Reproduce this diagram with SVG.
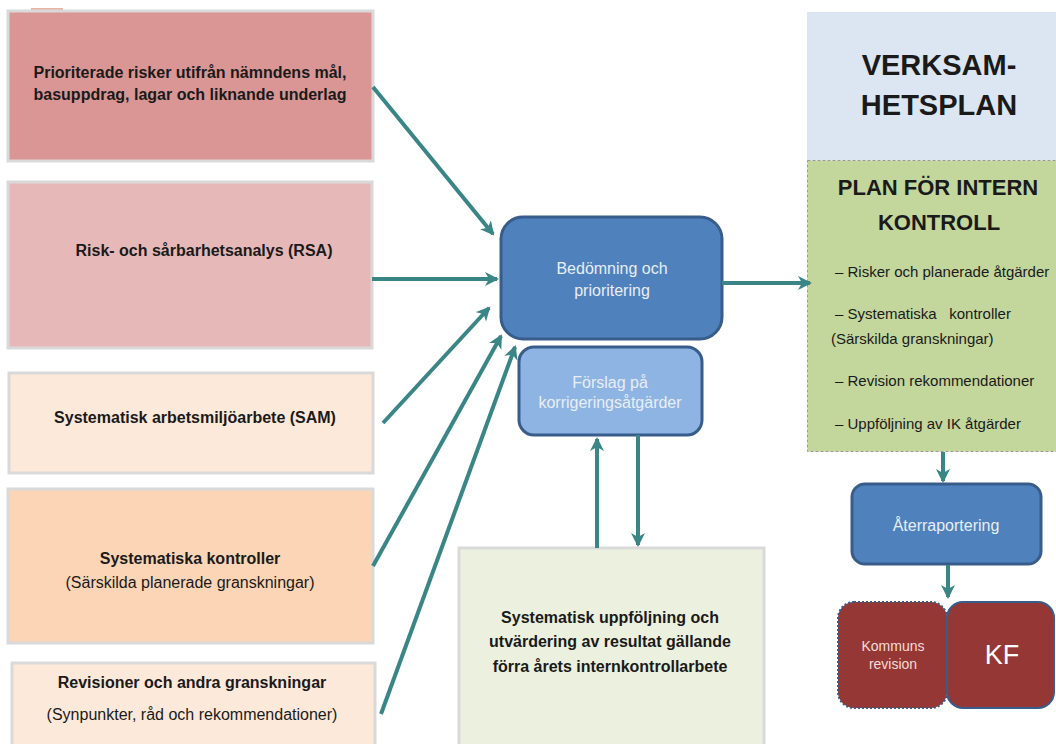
<svg xmlns="http://www.w3.org/2000/svg" width="1056" height="744" viewBox="0 0 1056 744">
<defs>
<marker id="ah" markerUnits="userSpaceOnUse" markerWidth="16" markerHeight="16" refX="12" refY="7" orient="auto">
<path d="M0,0 L14,7 L0,14 L4,7 z" fill="#3a8585"/>
</marker>
<style>
.src{stroke:#d9d9d9;stroke-width:3}
.b{font-family:"Liberation Sans",Arial,sans-serif;font-weight:bold;font-size:16px;fill:#1a1a1a;text-anchor:middle}
.r{font-family:"Liberation Sans",Arial,sans-serif;font-size:16px;fill:#1a1a1a;text-anchor:middle}
.w{font-family:"Liberation Sans",Arial,sans-serif;font-size:16px;fill:#e8eef7;text-anchor:middle}
.bl{font-family:"Liberation Sans",Arial,sans-serif;font-size:15px;fill:#1a1a1a}
.blue{fill:#4f81bd;stroke:#385d8a;stroke-width:3}
.conn line{stroke:#3a8585;stroke-width:4;marker-end:url(#ah)}
</style>
</defs>
<rect width="1056" height="744" fill="#ffffff"/>
<line x1="31" y1="9" x2="63" y2="9" stroke="#d0694a" stroke-width="1"/>

<g id="n-prioriterade">
<rect x="8" y="11" width="365" height="150" fill="#d99694" class="src"/>
<text class="b" x="190" y="78">Prioriterade risker utifrån nämndens mål,</text>
<text class="b" x="190" y="100">basuppdrag, lagar och liknande underlag</text>
</g>
<g id="n-rsa">
<rect x="8" y="182" width="364" height="166" fill="#e6b9b8" class="src"/>
<text class="b" x="204" y="256">Risk- och sårbarhetsanalys (RSA)</text>
</g>
<g id="n-sam">
<rect x="9" y="373" width="364" height="100" fill="#fde9d9" class="src"/>
<text class="b" x="195" y="423">Systematisk arbetsmiljöarbete (SAM)</text>
</g>
<g id="n-systkontroller">
<rect x="8" y="489" width="365" height="154" fill="#fbd5b5" class="src"/>
<text class="b" x="190" y="564">Systematiska kontroller</text>
<text class="r" x="190" y="588">(Särskilda planerade granskningar)</text>
</g>
<g id="n-revisioner">
<rect x="12" y="663" width="363" height="100" fill="#fde9d9" class="src"/>
<text class="b" x="192" y="688">Revisioner och andra granskningar</text>
<text class="r" x="192" y="720">(Synpunkter, råd och rekommendationer)</text>
</g>

<g id="n-bedomning">
<rect x="501" y="217" width="221" height="122" rx="22" class="blue"/>
<text class="w" x="612" y="274">Bedömning och</text>
<text class="w" x="612" y="296">prioritering</text>
</g>
<g id="n-forslag">
<rect x="519" y="347" width="183" height="88" rx="15" fill="#8eb4e3" stroke="#385d8a" stroke-width="3"/>
<text class="w" x="610" y="388">Förslag på</text>
<text class="w" x="610" y="408">korrigeringsåtgärder</text>
</g>
<g id="n-uppfoljning">
<rect x="459" y="548" width="305" height="210" fill="#ebf1de" class="src"/>
<text class="b" x="610" y="623">Systematisk uppföljning och</text>
<text class="b" x="610" y="647">utvärdering av resultat gällande</text>
<text class="b" x="610" y="672">förra årets internkontrollarbete</text>
</g>

<g id="n-verksamhetsplan">
<rect x="807" y="12" width="260" height="148" fill="#dce6f2"/>
<text x="939" y="75" font-family="Liberation Sans,Arial,sans-serif" font-weight="bold" font-size="29" fill="#1a1a1a" text-anchor="middle">VERKSAM-</text>
<text x="939" y="115" font-family="Liberation Sans,Arial,sans-serif" font-weight="bold" font-size="29" fill="#1a1a1a" text-anchor="middle">HETSPLAN</text>
</g>
<g id="n-plan">
<rect x="807.5" y="160.5" width="260" height="291" fill="#c3d69b" stroke="#9a9a9a" stroke-width="1" stroke-dasharray="3,2"/>
<text x="938" y="195" font-family="Liberation Sans,Arial,sans-serif" font-weight="bold" font-size="22" fill="#1a1a1a" text-anchor="middle">PLAN FÖR INTERN</text>
<text x="939" y="230" font-family="Liberation Sans,Arial,sans-serif" font-weight="bold" font-size="22" fill="#1a1a1a" text-anchor="middle">KONTROLL</text>
<text class="bl" x="835" y="277">– Risker och planerade åtgärder</text>
<text class="bl" x="835" y="319" xml:space="preserve">– Systematiska   kontroller</text>
<text class="bl" x="831" y="344">(Särskilda granskningar)</text>
<text class="bl" x="835" y="386">– Revision rekommendationer</text>
<text class="bl" x="835" y="429">– Uppföljning av IK åtgärder</text>
</g>
<g id="n-aterraportering">
<rect x="852" y="484" width="189" height="80" rx="13" class="blue"/>
<text class="w" x="946" y="531" font-size="16.5">Återraportering</text>
</g>
<g id="n-kommunsrevision">
<rect x="838" y="602" width="109" height="106" rx="16" fill="#953735" stroke="#385d8a" stroke-width="2" stroke-dasharray="2,2"/>
<text x="893" y="651" font-family="Liberation Sans,Arial,sans-serif" font-size="14" fill="#f2dcdb" text-anchor="middle">Kommuns</text>
<text x="893" y="669" font-family="Liberation Sans,Arial,sans-serif" font-size="14" fill="#f2dcdb" text-anchor="middle">revision</text>
</g>
<g id="n-kf">
<rect x="947" y="602" width="107" height="106" rx="16" fill="#953735" stroke="#385d8a" stroke-width="2"/>
<text x="1002" y="664" font-family="Liberation Sans,Arial,sans-serif" font-size="27" fill="#ffffff" text-anchor="middle">KF</text>
</g>

<g id="connectors" class="conn">
<line x1="373" y1="87" x2="493" y2="234"/>
<line x1="372" y1="279" x2="497" y2="279"/>
<line x1="383" y1="423" x2="489" y2="308"/>
<line x1="373" y1="566" x2="501" y2="336"/>
<line x1="381" y1="714" x2="515" y2="347"/>
<line x1="722" y1="283" x2="810" y2="283"/>
<line x1="597" y1="548" x2="597" y2="439"/>
<line x1="638" y1="435" x2="638" y2="545"/>
<line x1="943" y1="452" x2="943" y2="481"/>
<line x1="948" y1="565" x2="948" y2="597"/>
</g>
</svg>
